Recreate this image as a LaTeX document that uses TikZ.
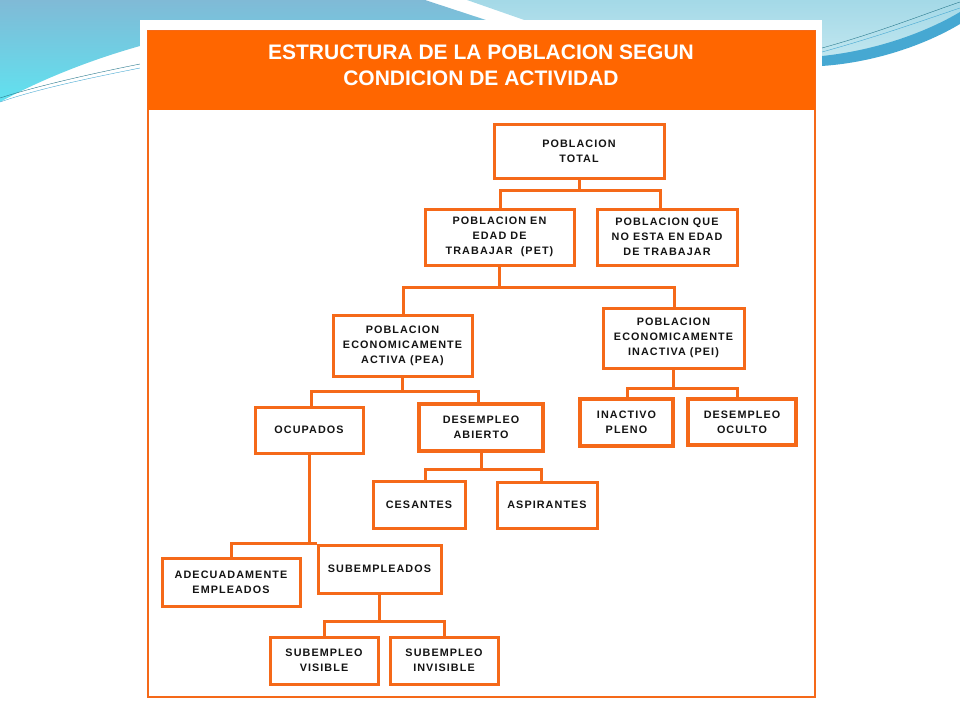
\documentclass[tikz,border=0pt]{standalone}
\usepackage{fontspec}
\setmainfont{Liberation Sans}
\newfontfamily\boxfont[LetterSpace=10]{Liberation Sans}
\usetikzlibrary{positioning}
\usepackage{xcolor}
\definecolor{bandorange}{RGB}{255,102,0}
\definecolor{boxorange}{RGB}{245,105,25}
\definecolor{skyblue}{RGB}{128,186,214}
\definecolor{cyanblue}{RGB}{96,226,240}
\definecolor{paleblue}{RGB}{170,222,234}
\definecolor{swooshblue}{RGB}{70,168,210}
\definecolor{linegreen}{RGB}{40,120,140}
\definecolor{boxtext}{RGB}{20,20,20}

\begin{document}
\begin{tikzpicture}[x=1pt, y=-1pt,
    box/.style 2 args={draw=boxorange, line width=3pt, fill=white, align=center,
        inner sep=0pt, minimum width=#1, minimum height=#2, text=boxtext,
        font={\boxfont\bfseries\fontsize{10.8}{15}\selectfont}},
    heavy/.style={line width=4pt},
    link/.style={draw=boxorange, line width=3pt}]
                \useasboundingbox (0,0) rectangle (960,720);

                % Draw the slide background swooshes
                \shade[top color=skyblue, bottom color=cyanblue] (0,0) -- (425,0) -- (492,22)
                    -- (492,40) -- (140,46) .. controls (90,60) and (40,80) .. (0,102) -- cycle;
                \shade[top color=paleblue!85!skyblue, bottom color=paleblue!70] (467,0) -- (960,0) -- (960,14)
                    .. controls (920,40) and (870,62) .. (822,64) -- (540,64) -- (530,22) -- cycle;
                \fill[swooshblue] (822,56) .. controls (880,50) and (930,30) .. (960,12) -- (960,24)
                    .. controls (930,42) and (880,62) .. (822,66) -- cycle;
                \draw[linegreen, thin] (0,98) .. controls (40,85) and (100,72) .. (140,64);
                \draw[swooshblue, thin] (0,102) .. controls (40,88) and (100,76) .. (140,68);
                \draw[linegreen, thin] (822,48) .. controls (880,32) and (930,12) .. (960,2);
                \draw[swooshblue, thin] (822,52) .. controls (880,36) and (930,18) .. (960,8);

                % Draw the card, its frame and title band
                \fill[white] (140,20) rectangle (822,702);
                \draw[boxorange, line width=2pt] (148,31) rectangle (815,697);
                \fill[bandorange] (148,31) rectangle (815,110);
                \node[text=white, align=center, font={\bfseries\fontsize{21}{26}\selectfont}] (title) at (481,65)
                    {ESTRUCTURA DE LA POBLACION SEGUN\\CONDICION DE ACTIVIDAD};

                % Draw nodes for the first two levels
                \node[box={170}{54}] (total) at (579,151) {POBLACION\\TOTAL};
                \node[box={149}{56}] (pet) at (499.5,237) {POBLACION EN\\EDAD DE\\TRABAJAR~ (PET)};
                \node[box={140}{56}] (nopet) at (667,237) {POBLACION QUE\\NO ESTA EN EDAD\\DE TRABAJAR};

                % Draw nodes for active and inactive population
                \node[box={139}{61}] (pea) at (402.5,345.5) {POBLACION\\ECONOMICAMENTE\\ACTIVA (PEA)};
                \node[box={141}{60}] (pei) at (673.5,338) {POBLACION\\ECONOMICAMENTE\\INACTIVA (PEI)};
                \node[box={108}{46}] (ocup) at (309,430) {OCUPADOS};
                \node[box={124}{47}, heavy] (desab) at (481,427.5) {DESEMPLEO\\ABIERTO};
                \node[box={93}{47}, heavy] (inact) at (626.5,422.5) {INACTIVO\\PLENO};
                \node[box={108}{46}, heavy] (desoc) at (742,422) {DESEMPLEO\\OCULTO};

                % Draw nodes for the lower levels
                \node[box={92}{47}] (ces) at (419,504.5) {CESANTES};
                \node[box={100}{46}] (asp) at (547,505) {ASPIRANTES};
                \node[box={138}{48}] (adec) at (231,582) {ADECUADAMENTE\\EMPLEADOS};
                \node[box={123}{48}] (subem) at (379.5,569) {SUBEMPLEADOS};
                \node[box={108}{47}] (vis) at (324,660.5) {SUBEMPLEO\\VISIBLE};
                \node[box={108}{47}] (invis) at (444,660.5) {SUBEMPLEO\\INVISIBLE};

                % Draw all connectors (tree edges)
                \draw[link] (total.south) -- ++(0,11) -| ([xshift=1]pet.north);
                \draw[link] (total.south) ++(0,11) -| ([xshift=-7]nopet.north);
                \draw[link] (pet.south) -- ++(0,21) -| ([xshift=1]pea.north);
                \draw[link] (pet.south) ++(0,21) -| ([xshift=1]pei.north);
                \draw[link] (pea.south) -- ++(0,14) -| ([xshift=2]ocup.north);
                \draw[link] (pea.south) ++(0,14) -| ([xshift=-3]desab.north);
                \draw[link] (pei.south) -- ++(0,19) -| ([xshift=1]inact.north);
                \draw[link] (pei.south) ++(0,19) -| ([xshift=-5]desoc.north);
                \draw[link] (desab.south) -- ++(0,16) -| ([xshift=6]ces.north);
                \draw[link] (desab.south) ++(0,16) -| ([xshift=-6]asp.north);
                \draw[link] (ocup.south) |- (subem.north west);
                \draw[link] (ocup.south |- subem.north) -| (adec.north);
                \draw[link] (subem.south) -- ++(0,27) -| (vis.north);
                \draw[link] (subem.south) ++(0,27) -| (invis.north);
\end{tikzpicture}
\end{document}
